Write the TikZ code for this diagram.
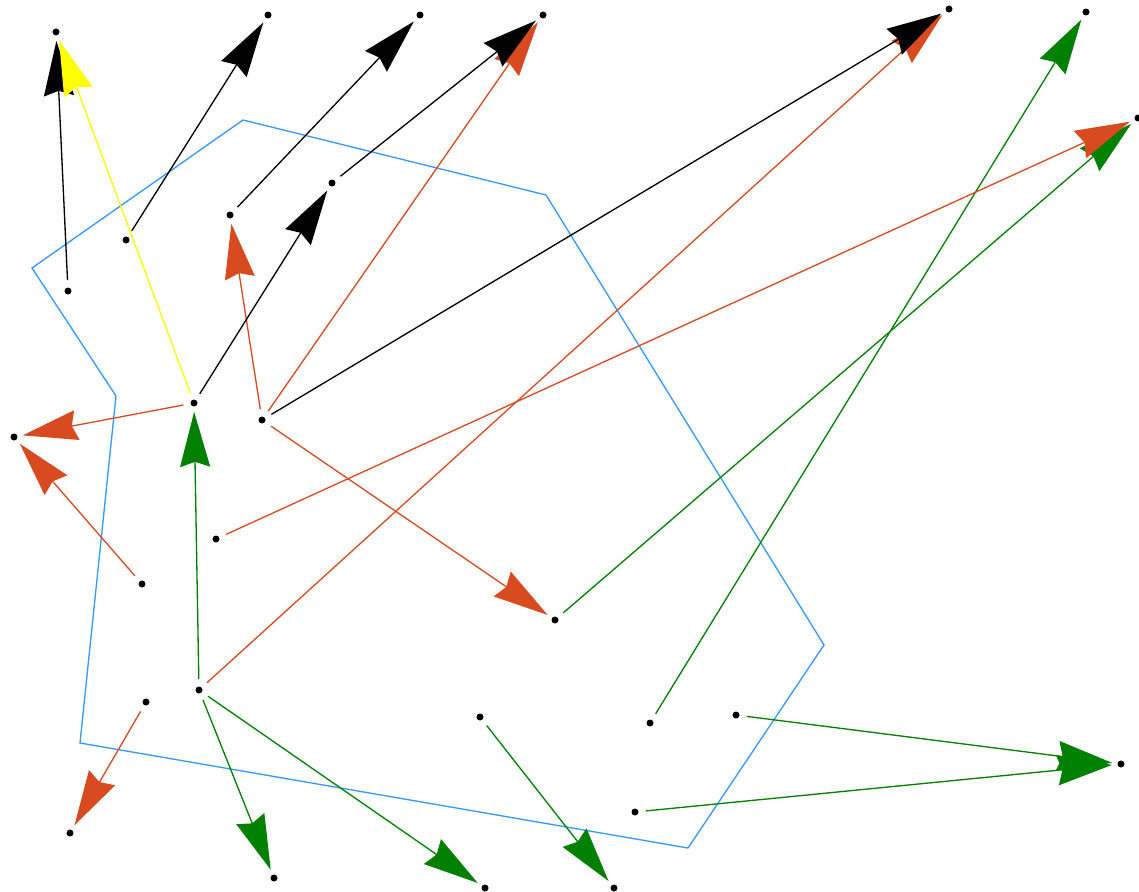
\documentclass[tikz,border=0pt]{standalone}
\usetikzlibrary{arrows.meta}
\definecolor{cred}{HTML}{D84A20}
\definecolor{cgreen}{HTML}{008000}
\definecolor{cblue}{HTML}{3399FF}
\definecolor{cyel}{HTML}{FFFF00}
\begin{document}
\begin{tikzpicture}[x=0.02cm,y=-0.02cm,
  pt/.style={circle,fill=black,inner sep=0pt,minimum size=0.14cm},
  conn/.style={line width=0.75pt,shorten <=0.14cm,shorten >=0.1cm,
    -{Stealth[length=1.1cm,width=0.6cm,inset=0.1cm]}},
  blk/.style={conn,draw=black},
  red/.style={conn,draw=cred},
  grn/.style={conn,draw=cgreen},
  yel/.style={conn,draw=cyel},
  poly/.style={draw=cblue,line width=0.75pt}]
\useasboundingbox (0,0) rectangle (1139,892);
\draw[poly] (243,120) -- (546,195) -- (824,645) -- (688,848) -- (80,743) -- (116,396) -- (32,268) -- cycle;
\node[pt] (p1) at (56,32) {};
\node[pt] (p2) at (268,15) {};
\node[pt] (p3) at (420,15) {};
\node[pt] (p4) at (543,15) {};
\node[pt] (p5) at (949,9) {};
\node[pt] (p6) at (1086,12) {};
\node[pt] (p7) at (1138,118) {};
\node[pt] (p8) at (332,183) {};
\node[pt] (p9) at (230,215) {};
\node[pt] (p10) at (126,240) {};
\node[pt] (p11) at (68,291) {};
\node[pt] (p12) at (194,403) {};
\node[pt] (p13) at (262,420) {};
\node[pt] (p14) at (14,437) {};
\node[pt] (p15) at (216,539) {};
\node[pt] (p16) at (142,584) {};
\node[pt] (p17) at (555,620) {};
\node[pt] (p18) at (199,690) {};
\node[pt] (p19) at (146,702) {};
\node[pt] (p20) at (480,717) {};
\node[pt] (p21) at (650,723) {};
\node[pt] (p22) at (736,715) {};
\node[pt] (p23) at (1121,764) {};
\node[pt] (p24) at (635,812) {};
\node[pt] (p25) at (70,833) {};
\node[pt] (p26) at (274,878) {};
\node[pt] (p27) at (485,888) {};
\node[pt] (p28) at (614,888) {};
% green
\draw[grn] (p18) -- (p12);
\draw[grn] (p18) -- (p26);
\draw[grn] (p18) -- (p27);
\draw[grn] (p20) -- (p28);
\draw[grn] (p21) -- (p6);
\draw[grn] (p17) -- (p7);
\draw[grn] (p22) -- (p23);
\draw[grn] (p24) -- (p23);
% red
\draw[red] (p13) -- (p9);
\draw[red] (p13) -- (p4);
\draw[red] (p13) -- (p17);
\draw[red] (p12) -- (p14);
\draw[red] (p16) -- (p14);
\draw[red] (p15) -- (p7);
\draw[red] (p18) -- (p5);
\draw[red] (p19) -- (p25);
% black
\draw[blk] (p11) -- (p1);
\draw[blk] (p10) -- (p2);
\draw[blk] (p9) -- (p3);
\draw[blk] (p8) -- (p4);
\draw[blk] (p12) -- (p8);
\draw[blk] (p13) -- (p5);
% yellow
\draw[yel] (p12) -- (p1);
\end{tikzpicture}
\end{document}
